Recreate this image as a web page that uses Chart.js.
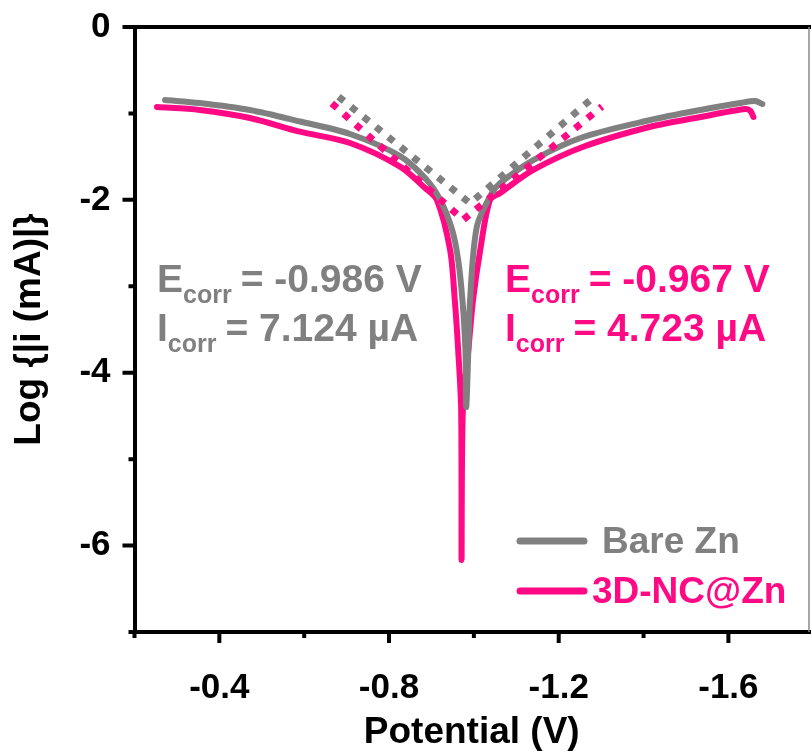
<!DOCTYPE html>
<html>
<head>
<meta charset="utf-8">
<script src="https://cdn.jsdelivr.net/npm/chart.js@4.4.1/dist/chart.umd.min.js"></script>
<style>
  html, body { margin: 0; padding: 0; background: #fff; }
  canvas { display: block; }
</style>
</head>
<body>
<canvas id="tafel" width="811" height="755"></canvas>
<script>
// Tafel plot data (potential in V, log current in mA)
var bareV   = [-0.272, -0.354, -0.472, -0.590, -0.708, -0.826, -0.885, -0.921, -0.949, -0.963, -0.973, -0.980, -0.982,
               -0.987, -0.991, -1.007, -1.042, -1.062, -1.140, -1.258, -1.416, -1.534, -1.628, -1.663, -1.680];
var bareLog = [-0.845, -0.879, -0.960, -1.093, -1.238, -1.493, -1.747, -2.002, -2.349, -2.696, -3.159, -3.737, -4.397,
               -3.737, -3.159, -2.311, -1.924, -1.805, -1.539, -1.273, -1.076, -0.960, -0.879, -0.856, -0.891];

var ncV   = [-0.253, -0.354, -0.472, -0.590, -0.708, -0.826, -0.885, -0.913, -0.944, -0.955, -0.963, -0.970, -0.971,
             -0.974, -0.987, -0.998, -1.015, -1.038, -1.062, -1.140, -1.258, -1.416, -1.534, -1.640, -1.652, -1.659];
var ncLog = [-0.926, -0.960, -1.053, -1.211, -1.342, -1.616, -1.863, -2.002, -2.580, -3.159, -3.737, -4.431, -6.167,
             -4.431, -3.737, -3.159, -2.580, -2.002, -1.920, -1.654, -1.385, -1.154, -1.041, -0.949, -0.972, -1.041];

// fitted Tafel lines: anodic end, crossing point, cathodic end
var tafelBareV   = [-0.681, -0.991, -1.278];
var tafelBareLog = [-0.806, -2.040, -0.830];
var tafelNcV     = [-0.665, -0.975, -1.302];
var tafelNcLog   = [-0.883, -2.230, -0.920];

// tick positions (every one gets a mark, labelled ones are longer)
var xTicks = [-0.2, -0.4, -0.6, -0.8, -1.0, -1.2, -1.4, -1.6];
var xTickLabels = [-0.4, -0.8, -1.2, -1.6];
var yTicks = [0, -1, -2, -3, -4, -5, -6, -7];
var yTickLabels = [0, -2, -4, -6];

var seriesNames = ['Bare Zn', '3D-NC@Zn'];
var ecorrText = ['-0.986 V', '-0.967 V'];
var icorrText = ['7.124 \u00b5A', '4.723 \u00b5A'];

var GRAY = '#808080';
var PINK = '#ff0a84';
var FONT = '"Liberation Sans", Arial, sans-serif';

function toPoints(xs, ys) {
  var pts = [];
  for (let i = 0; i < xs.length; i++) {
    pts.push({x: xs[i], y: ys[i]});
  }
  return pts;
}

function hasValue(list, v) {
  for (let i = 0; i < list.length; i++) {
    if (Math.abs(list[i] - v) < 1e-6) return true;
  }
  return false;
}

// E_corr / I_corr text with subscript
function drawCorr(ctx, x, y, letter, rest, color) {
  ctx.fillStyle = color;
  ctx.textBaseline = 'alphabetic';
  ctx.textAlign = 'left';
  ctx.font = 'bold 39px ' + FONT;
  ctx.fillText(letter, x, y);
  var w = ctx.measureText(letter).width;
  ctx.font = 'bold 25px ' + FONT;
  ctx.fillText('corr', x + w, y + 11);
  var w2 = ctx.measureText('corr').width;
  ctx.font = 'bold 39px ' + FONT;
  ctx.fillText('= ' + rest, x + w + w2 + 9, y);
}

var decor = {
  id: 'decor',
  afterDraw: function(chart) {
    var ctx = chart.ctx;
    var area = chart.chartArea;
    var xs = chart.scales.x;
    var ys = chart.scales.y;
    ctx.save();

    // frame: thick top line, thin right line, bottom line to the edge
    ctx.strokeStyle = '#000';
    ctx.lineWidth = 4;
    ctx.beginPath();
    ctx.moveTo(area.left, area.top);
    ctx.lineTo(chart.width, area.top);
    ctx.moveTo(area.right, area.bottom);
    ctx.lineTo(chart.width, area.bottom);
    ctx.stroke();
    ctx.strokeStyle = '#888';
    ctx.lineWidth = 1.5;
    ctx.beginPath();
    ctx.moveTo(area.right, area.top);
    ctx.lineTo(area.right, area.bottom);
    ctx.stroke();

    // tick marks
    ctx.strokeStyle = '#000';
    ctx.lineWidth = 4;
    ctx.beginPath();
    xs.ticks.forEach(function(t) {
      var px = xs.getPixelForValue(t.value);
      var len = hasValue(xTickLabels, t.value) ? 11 : 6;
      ctx.moveTo(px, area.bottom);
      ctx.lineTo(px, area.bottom + len);
    });
    ys.ticks.forEach(function(t) {
      var py = ys.getPixelForValue(t.value);
      var len = hasValue(yTickLabels, t.value) ? 12 : 6;
      ctx.moveTo(area.left, py);
      ctx.lineTo(area.left - len, py);
    });
    ctx.stroke();

    // annotations
    drawCorr(ctx, 157, 292, 'E', ecorrText[0], GRAY);
    drawCorr(ctx, 157, 341, 'I', icorrText[0], GRAY);
    drawCorr(ctx, 505, 292, 'E', ecorrText[1], PINK);
    drawCorr(ctx, 505, 341, 'I', icorrText[1], PINK);

    // legend inside the plot
    var colors = [GRAY, PINK];
    var rows = [541, 591];
    ctx.lineCap = 'round';
    ctx.lineWidth = 7;
    ctx.font = 'bold 37px ' + FONT;
    ctx.textBaseline = 'middle';
    for (let i = 0; i < seriesNames.length; i++) {
      ctx.strokeStyle = colors[i];
      ctx.beginPath();
      ctx.moveTo(520, rows[i]);
      ctx.lineTo(584, rows[i]);
      ctx.stroke();
      ctx.fillStyle = colors[i];
      ctx.fillText(seriesNames[i], i == 0 ? 602 : 592, rows[i] + 2);
    }
    ctx.restore();
  }
};

var ctx = document.getElementById('tafel').getContext('2d');
var chart = new Chart(ctx, {
  type: 'scatter',
  data: {
    datasets: [{
      label: 'Bare Zn Tafel',
      data: toPoints(tafelBareV, tafelBareLog),
      showLine: true,
      borderColor: GRAY,
      borderWidth: 7,
      borderDash: [7, 9],
      pointRadius: 0,
      tension: 0,
      order: 0
    }, {
      label: '3D-NC@Zn Tafel',
      data: toPoints(tafelNcV, tafelNcLog),
      showLine: true,
      borderColor: PINK,
      borderWidth: 7,
      borderDash: [7, 9],
      pointRadius: 0,
      tension: 0,
      order: 0
    }, {
      label: seriesNames[0],
      data: toPoints(bareV, bareLog),
      showLine: true,
      borderColor: GRAY,
      borderWidth: 6,
      borderCapStyle: 'round',
      borderJoinStyle: 'round',
      pointRadius: 0,
      tension: 0.3,
      order: 1
    }, {
      label: seriesNames[1],
      data: toPoints(ncV, ncLog),
      showLine: true,
      borderColor: PINK,
      borderWidth: 6,
      borderCapStyle: 'round',
      borderJoinStyle: 'round',
      pointRadius: 0,
      tension: 0.3,
      order: 2
    }]
  },
  options: {
    responsive: false,
    animation: false,
    layout: { padding: { top: 27, right: 2, left: 0, bottom: 0 } },
    plugins: {
      legend: { display: false },
      tooltip: { enabled: false }
    },
    scales: {
      x: {
        type: 'linear',
        reverse: true,
        min: -1.79,
        max: -0.2,
        // tick marks are drawn by the plugin, tickLength only spaces the labels
        grid: { display: false, drawTicks: true, tickLength: 35 },
        border: { display: true, color: '#000', width: 4 },
        afterBuildTicks: function(scale) {
          scale.ticks = xTicks.map(function(v) { return {value: v}; });
        },
        ticks: {
          padding: 0,
          autoSkip: false,
          maxRotation: 0,
          color: '#000',
          font: { family: FONT, size: 35, weight: 'bold' },
          callback: function(v) { return hasValue(xTickLabels, v) ? v.toFixed(1) : ''; }
        },
        title: {
          display: true,
          text: 'Potential (V)',
          color: '#000',
          font: { family: FONT, size: 37, weight: 'bold' },
          padding: { top: 0, bottom: 0 }
        },
        afterFit: function(scale) { scale.height = 123; }
      },
      y: {
        min: -7,
        max: 0,
        grid: { display: false, drawTicks: true, tickLength: 24 },
        border: { display: true, color: '#000', width: 4 },
        afterBuildTicks: function(scale) {
          scale.ticks = yTicks.map(function(v) { return {value: v}; });
        },
        ticks: {
          padding: 0,
          autoSkip: false,
          color: '#000',
          font: { family: FONT, size: 35, weight: 'bold' },
          callback: function(v) { return hasValue(yTickLabels, v) ? String(v) : ''; }
        },
        title: {
          display: true,
          text: 'Log {|i (mA)|}',
          color: '#000',
          font: { family: FONT, size: 37, weight: 'bold' },
          padding: { top: 8, bottom: 0 }
        },
        afterFit: function(scale) { scale.width = 134.5; }
      }
    }
  },
  plugins: [decor]
});
</script>
</body>
</html>
